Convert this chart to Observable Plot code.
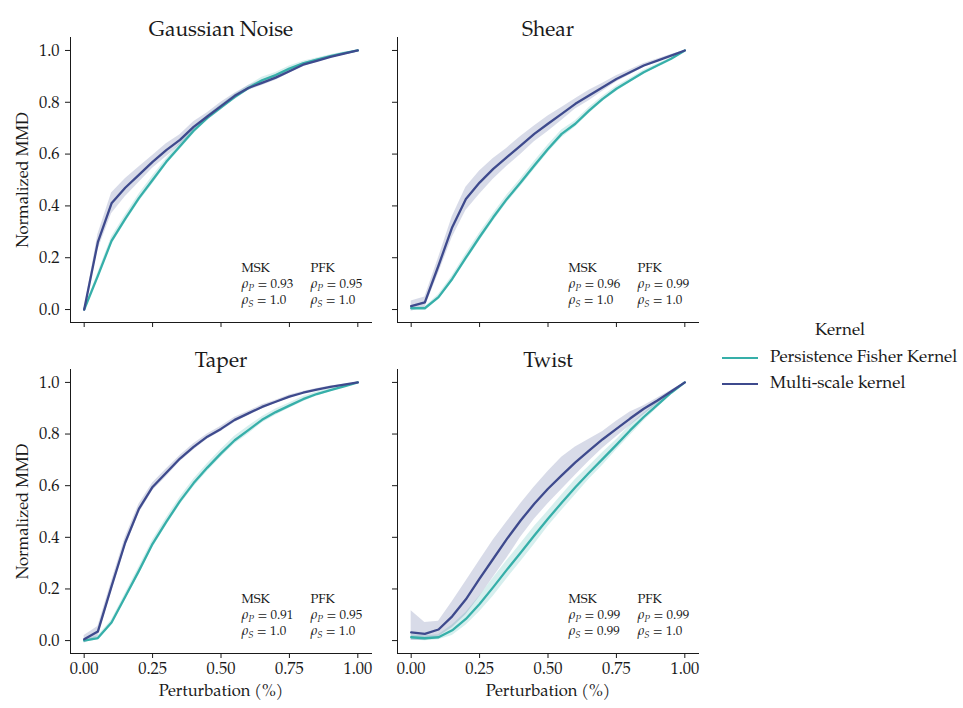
<!DOCTYPE html>
<html><head><meta charset="utf-8">
<script src="https://cdn.jsdelivr.net/npm/d3@7"></script>
<script src="https://cdn.jsdelivr.net/npm/@observablehq/plot@0.6"></script>
<style>
body{margin:0;background:#fff;}
#wrap{position:relative;width:963px;height:708px;font-family:"TeX Gyre Pagella","URW Palladio L","Palatino Linotype",Palatino,"P052","Liberation Serif",serif;color:#1a1a1a;overflow:hidden;}
.panel{position:absolute;}
.panel text{font-family:"TeX Gyre Pagella","URW Palladio L","Palatino Linotype",Palatino,"P052","Liberation Serif",serif !important;}
#legend{position:absolute;left:700px;top:320px;width:263px;font-size:17px;}
#legend .ttl{position:absolute;left:0;width:280px;text-align:center;top:3px;}
#legend .item{position:absolute;left:22px;height:20px;line-height:20px;white-space:nowrap;}
#legend .sw{display:inline-block;width:36px;height:2.5px;vertical-align:middle;margin-right:12px;}
</style></head>
<body><div id="wrap"></div>
<script>
// ---- data ----
const perturbation = [0,0.05,0.1,0.15,0.2,0.25,0.3,0.35,0.4,0.45,0.5,0.55,0.6,0.65,0.7,0.75,0.8,0.85,0.9,0.95,1.0];
const panelNames = ["Gaussian Noise","Shear","Taper","Twist"];
const kernelNames = ["Persistence Fisher Kernel","Multi-scale kernel"];
const kernelColors = ["#36afa9","#3e4a8d"];

const gaussPFK   = [0,0.13,0.265,0.35,0.43,0.5,0.57,0.63,0.69,0.74,0.78,0.82,0.855,0.885,0.905,0.93,0.95,0.965,0.978,0.99,1.0];
const gaussPFKsd = [0,0.012,0.015,0.015,0.015,0.015,0.012,0.012,0.012,0.01,0.01,0.01,0.01,0.012,0.01,0.01,0.008,0.006,0.005,0.004,0];
const gaussMSK   = [0,0.26,0.41,0.47,0.52,0.57,0.615,0.655,0.705,0.745,0.785,0.825,0.855,0.875,0.895,0.92,0.945,0.96,0.975,0.988,1.0];
const gaussMSKsd = [0,0.03,0.04,0.035,0.03,0.025,0.025,0.02,0.02,0.015,0.015,0.01,0.01,0.01,0.01,0.008,0.008,0.006,0.005,0.004,0];

const shearPFK   = [0.005,0.005,0.048,0.118,0.2,0.28,0.356,0.427,0.49,0.556,0.62,0.678,0.717,0.768,0.813,0.852,0.884,0.916,0.942,0.968,1.0];
const shearPFKsd = [0.005,0.005,0.01,0.012,0.015,0.015,0.015,0.015,0.015,0.015,0.015,0.015,0.012,0.012,0.01,0.01,0.008,0.008,0.006,0.004,0];
const shearMSK   = [0.013,0.028,0.17,0.318,0.427,0.49,0.543,0.588,0.633,0.678,0.717,0.755,0.794,0.826,0.858,0.89,0.916,0.942,0.961,0.98,1.0];
const shearMSKsd = [0.02,0.02,0.03,0.04,0.045,0.045,0.04,0.035,0.035,0.03,0.03,0.025,0.02,0.02,0.015,0.012,0.01,0.008,0.006,0.004,0];

const taperPFK   = [0,0.01,0.07,0.17,0.27,0.375,0.46,0.54,0.61,0.67,0.725,0.776,0.815,0.855,0.885,0.91,0.935,0.955,0.97,0.985,1.0];
const taperPFKsd = [0.005,0.008,0.01,0.012,0.015,0.015,0.015,0.015,0.015,0.015,0.015,0.015,0.015,0.012,0.012,0.01,0.01,0.008,0.006,0.004,0];
const taperMSK   = [0.005,0.035,0.21,0.38,0.51,0.595,0.65,0.705,0.75,0.79,0.82,0.855,0.88,0.905,0.925,0.945,0.96,0.972,0.983,0.991,1.0];
const taperMSKsd = [0.015,0.02,0.02,0.02,0.018,0.015,0.015,0.012,0.012,0.01,0.01,0.01,0.008,0.008,0.006,0.006,0.005,0.004,0.003,0.002,0];

const twistPFK   = [0.013,0.009,0.013,0.04,0.084,0.142,0.207,0.275,0.34,0.407,0.472,0.534,0.594,0.65,0.704,0.758,0.814,0.866,0.913,0.96,1.0];
const twistPFKsd = [0.01,0.01,0.01,0.02,0.025,0.03,0.035,0.035,0.035,0.035,0.03,0.03,0.03,0.025,0.025,0.02,0.02,0.015,0.012,0.008,0];
const twistMSK   = [0.032,0.026,0.043,0.094,0.16,0.24,0.317,0.394,0.465,0.53,0.588,0.64,0.69,0.736,0.78,0.82,0.86,0.898,0.93,0.965,1.0];
const twistMSKlo = [0.0,0.0,0.015,0.05,0.1,0.17,0.245,0.32,0.4,0.47,0.53,0.585,0.64,0.695,0.745,0.79,0.832,0.875,0.915,0.955,1.0];
const twistMSKhi = [0.116,0.07,0.075,0.15,0.23,0.31,0.39,0.46,0.53,0.595,0.655,0.71,0.75,0.78,0.81,0.85,0.885,0.91,0.94,0.97,1.0];

const mskPearson  = ["0.93","0.96","0.91","0.99"];
const mskSpearman = ["1.0","1.0","1.0","0.99"];
const pfkPearson  = ["0.95","0.99","0.95","0.99"];
const pfkSpearman = ["1.0","1.0","1.0","1.0"];

const xTicks = [0,0.25,0.5,0.75,1.0];
const yTicks = [0,0.2,0.4,0.6,0.8,1.0];
const axisDomain = [-0.05,1.05];

// ---- build series ----
function rows(vals, lo, hi){ return perturbation.map((x,i)=>({x, y: vals[i], lo: lo[i], hi: hi[i]})); }
function sdRows(vals, sd){ return rows(vals, vals.map((v,i)=>v-sd[i]), vals.map((v,i)=>v+sd[i])); }
const series = [
  [sdRows(gaussPFK,gaussPFKsd), sdRows(gaussMSK,gaussMSKsd)],
  [sdRows(shearPFK,shearPFKsd), sdRows(shearMSK,shearMSKsd)],
  [sdRows(taperPFK,taperPFKsd), sdRows(taperMSK,taperMSKsd)],
  [sdRows(twistPFK,twistPFKsd), rows(twistMSK,twistMSKlo,twistMSKhi)]
];

const layout = [
  {left:0,  top:0,   width:385, height:345, mL:70, mR:14, mT:37, mB:23, xl:false, yl:true,  tdy:-16},
  {left:385,top:0,   width:325, height:345, mL:12, mR:12, mT:37, mB:23, xl:false, yl:false, tdy:-16},
  {left:0,  top:345, width:385, height:363, mL:70, mR:14, mT:24, mB:55, xl:true,  yl:true,  tdy:-17},
  {left:385,top:345, width:325, height:363, mL:12, mR:12, mT:24, mB:55, xl:true,  yl:false, tdy:-17}
];

const wrap = document.getElementById("wrap");
const FONT = '"TeX Gyre Pagella","URW Palladio L","Palatino Linotype",Palatino,"P052","Liberation Serif",serif';
const INK = "#1a1a1a";

panelNames.forEach((name, p) => {
  const L = layout[p];
  const marks = [];
  series[p].forEach((s,k) => {
    marks.push(Plot.areaY(s, {x:"x", y1:"lo", y2:"hi", fill: kernelColors[k], fillOpacity: 0.2}));
  });
  series[p].forEach((s,k) => {
    marks.push(Plot.line(s, {x:"x", y:"y", stroke: kernelColors[k], strokeWidth: 2.3}));
  });
  marks.push(Plot.text([name], {text: d=>d, frameAnchor:"top", dy: L.tdy, fontSize: 21, fontFamily: FONT, fill: INK}));
  if (L.yl) marks.push(Plot.text(["Normalized MMD"], {text:d=>d, frameAnchor:"left", textAnchor:"middle", dx:-48, rotate:-90, fontSize:16.5, fontFamily: FONT, fill: INK}));
  if (L.xl) marks.push(Plot.text(["Perturbation (%)"], {text:d=>d, frameAnchor:"bottom", dy:42, fontSize:16.5, fontFamily: FONT, fill: INK}));
  const stats = [
    [["MSK"], ["ρ_P_= " + mskPearson[p]], ["ρ_S_= " + mskSpearman[p]]],
    [["PFK"], ["ρ_P_= " + pfkPearson[p]], ["ρ_S_= " + pfkSpearman[p]]]
  ];
  stats.forEach((col, c) => {
    col.forEach((line, r) => {
      marks.push(Plot.text(line, {text:d=>d, frameAnchor:"bottom-left", textAnchor:"start",
        dx: 171 + c*69, dy: -51 + r*16, fontSize: 13, fontFamily: FONT, fill: INK}));
    });
  });
  const chart = Plot.plot({
    width: L.width, height: L.height,
    marginLeft: L.mL, marginRight: L.mR, marginTop: L.mT, marginBottom: L.mB,
    style: {fontFamily: FONT, fontSize: "16.5px", color: INK, background: "transparent", overflow: "visible"},
    x: {domain: axisDomain, ticks: xTicks, tickFormat: L.xl ? d3.format(".2f") : () => "", tickSize: 5, tickPadding: 4, line: true, label: null},
    y: {domain: axisDomain, ticks: yTicks, tickFormat: L.yl ? d3.format(".1f") : () => "", tickSize: 5, tickPadding: 6, line: true, label: null},
    marks
  });
  chart.classList.add("panel");
  chart.style.left = L.left + "px";
  chart.style.top = L.top + "px";
  const sel = d3.select(chart);
  sel.attr("font-family", FONT);
  sel.selectAll("text").attr("font-family", FONT);
  // rich-text for rho lines
  sel.selectAll("text").each(function(){
    const t = this.textContent;
    if (t.startsWith("ρ_")) {
      const sub = t[2];
      const rest = t.slice(4);
      const el = d3.select(this);
      el.text(null);
      el.append("tspan").attr("font-style","italic").text("ρ");
      el.append("tspan").attr("font-style","italic").attr("font-size",9.5).attr("dy",3).text(sub);
      el.append("tspan").attr("dy",-3).text(" = " + rest.replace("= ",""));
    }
  });
  wrap.appendChild(chart);
});

// legend
const leg = document.createElement("div");
leg.id = "legend";
let html = '<div class="ttl">Kernel</div>';
kernelNames.forEach((n,k)=>{
  html += `<div class="item" style="top:${29 + k*26}px"><span class="sw" style="background:${kernelColors[k]}"></span>${n}</div>`;
});
leg.innerHTML = html;
wrap.appendChild(leg);
</script>
</body></html>
